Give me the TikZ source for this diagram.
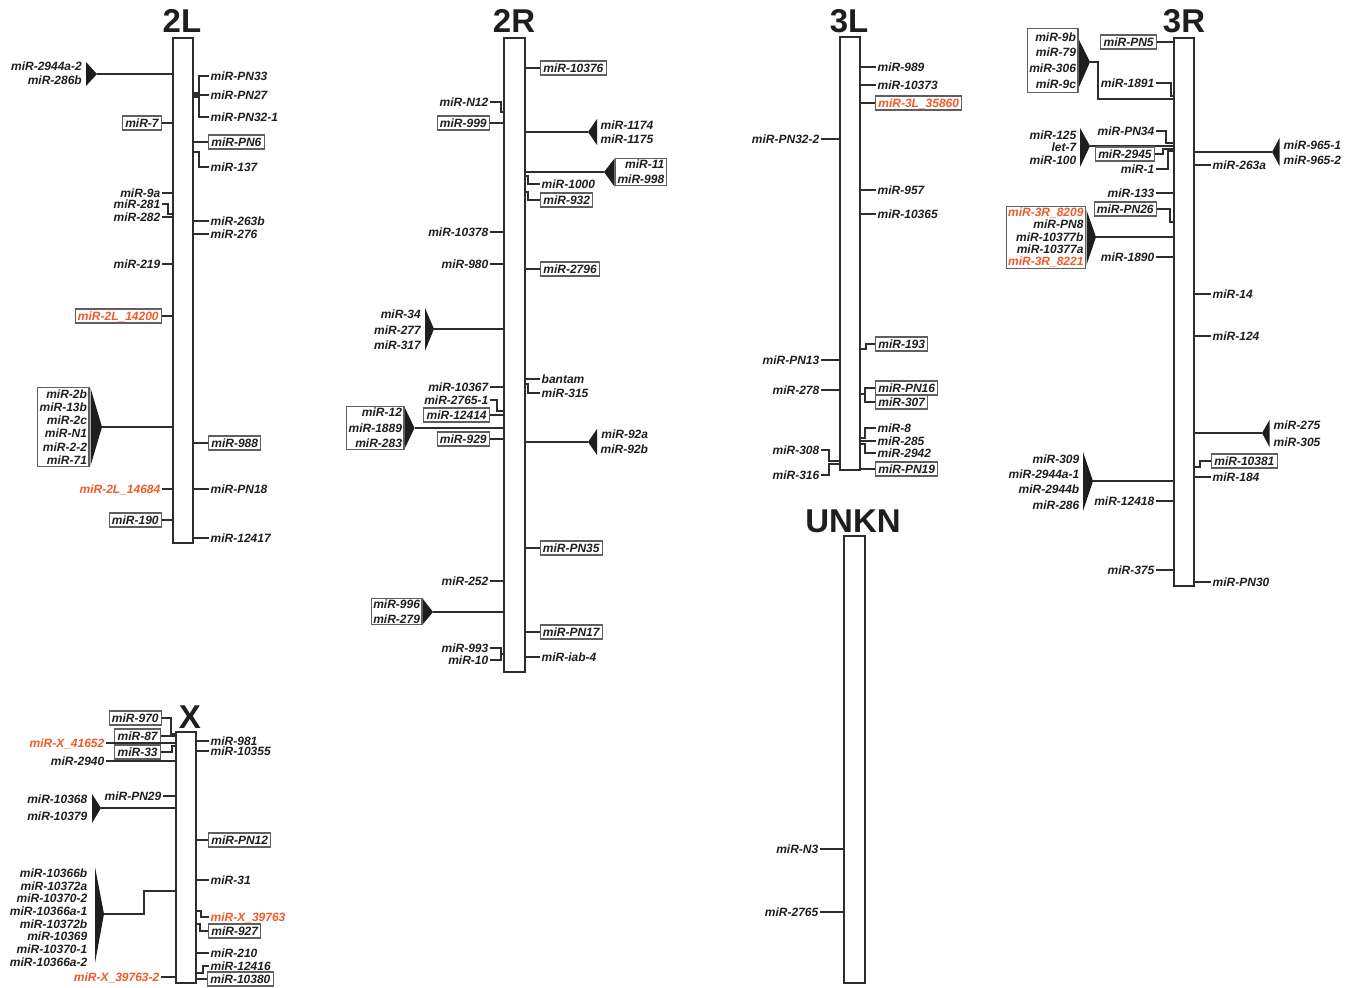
\documentclass[tikz,border=0pt]{standalone}
\usepackage{fontspec}
\newfontfamily\labf{Liberation Sans}
\definecolor{ink}{RGB}{30,30,30}
\definecolor{linec}{RGB}{45,45,45}
\definecolor{boxc}{RGB}{95,95,95}
\definecolor{redc}{RGB}{240,90,40}
\newcommand\labfont{\labf\bfseries\itshape\fontsize{12}{13}\selectfont}
\newcommand\cf[1]{\fontsize{12}{#1}\selectfont}
\newcommand\titlefont{\labf\bfseries\fontsize{33}{33}\selectfont}
\tikzset{
 lab/.style={font=\labfont, text=ink, inner xsep=1.5pt, inner ysep=1pt, text height=9pt, text depth=0pt},
 blab/.style={draw=boxc, line width=1.1pt, inner xsep=2.8pt, inner ysep=2.5pt},
 redt/.style={text=redc},
 clus/.style={text=ink, align=right, inner xsep=2pt, inner ysep=2pt},
 bclus/.style={clus, draw=boxc, line width=1.1pt},
 tick/.style={draw=linec, line width=1.5pt},
 chrom/.style={draw=linec, line width=1.4pt, fill=white, rectangle, inner sep=0pt},
 title/.style={font=\titlefont, text=ink, inner sep=0pt},
 tri/.style={fill=ink}
}
% left label with straight tick
\newcommand\LL[6][]{\node[lab,anchor=east,#1] (#2) at (#4,#5) {#6};\draw[tick] (#2.east) -- (#2.east -| #3.west);}
% right label with straight tick
\newcommand\RR[6][]{\node[lab,anchor=west,#1] (#2) at (#4,#5) {#6};\draw[tick] (#2.west) -- (#2.west -| #3.east);}
% left label with elbow
\newcommand\LE[8][]{\node[lab,anchor=east,#1] (#2) at (#4,#5) {#6};\draw[tick] (#2.east) -- ++(#7,0) |- (#3.west |- 0,#8);}
% right label with elbow
\newcommand\RE[8][]{\node[lab,anchor=west,#1] (#2) at (#4,#5) {#6};\draw[tick] (#2.west) -- ++(-#7,0) |- (#3.east |- 0,#8);}
\begin{document}
\begin{tikzpicture}[x=1pt,y=-1pt]
\useasboundingbox (0,0) rectangle (1356,987);
% chromosomes
\node[chrom,minimum width=20pt,minimum height=505pt] (b2L) at (183,290.5) {};
\node[chrom,minimum width=21pt,minimum height=634pt] (b2R) at (514.5,355) {};
\node[chrom,minimum width=20pt,minimum height=433pt] (b3L) at (850,253.5) {};
\node[chrom,minimum width=20pt,minimum height=548pt] (b3R) at (1184,312) {};
\node[chrom,minimum width=20pt,minimum height=251pt] (bX) at (186,857.5) {};
\node[chrom,minimum width=21pt,minimum height=447pt] (bU) at (854.5,759.5) {};
% titles
\node[title,anchor=base] (t2L) at (182,33) {2L};
\node[title,anchor=base] (t2R) at (514,33) {2R};
\node[title,anchor=base] (t3L) at (849,33) {3L};
\node[title,anchor=base] (t3R) at (1184,33) {3R};
\node[title,anchor=base] (tX) at (190,728) {X};
\node[title,anchor=base] (tU) at (853,532) {UNKN};

% ---------------- 2L ----------------
\node[clus,anchor=east,font=\labfont\cf{14.5}] (c2La) at (84,73) {miR-2944a-2\\miR-286b};
\coordinate (k2La) at (97,74);
\fill[tri] (86,62) -- (k2La) -- (86,86) -- cycle;
\draw[tick] (k2La) -- (k2La -| b2L.west);
\LL[blab]{a7}{b2L}{162}{123}{miR-7}
\LL{a9a}{b2L}{162}{193}{miR-9a}
\LE{a281}{b2L}{162}{204}{miR-281}{6}{214}
\LL{a282}{b2L}{162}{217}{miR-282}
\LL{a219}{b2L}{162}{264}{miR-219}
\LL[blab,redt]{a14200}{b2L}{162}{316}{miR-2L\_14200}
\node[bclus,anchor=east,font=\labfont\cf{13.2}] (c2Lb) at (89.5,427) {miR-2b\\miR-13b\\miR-2c\\miR-N1\\miR-2-2\\miR-71};
\coordinate (k2Lb) at (102,427);
\fill[tri] (90.5,388) -- (k2Lb) -- (90.5,466) -- cycle;
\draw[tick] (k2Lb) -- (k2Lb -| b2L.west);
\LL[redt]{a14684}{b2L}{162}{489}{miR-2L\_14684}
\LL[blab]{a190}{b2L}{162}{520}{miR-190}
\RE{aPN33}{b2L}{209}{76}{miR-PN33}{10}{93}
\RR{aPN27}{b2L}{209}{95}{miR-PN27}
\RE{aPN321}{b2L}{209}{117}{miR-PN32-1}{10}{97}
\RR[blab]{aPN6}{b2L}{208}{142}{miR-PN6}
\RE{a137}{b2L}{209}{167}{miR-137}{10}{152}
\RR{a263b}{b2L}{209}{221}{miR-263b}
\RR{a276}{b2L}{209}{234}{miR-276}
\RR[blab]{a988}{b2L}{208}{443}{miR-988}
\RR{aPN18}{b2L}{209}{489}{miR-PN18}
\RR{a12417}{b2L}{209}{538}{miR-12417}

% ---------------- 2R ----------------
\LE{bN12}{b2R}{490}{102}{miR-N12}{11}{112}
\LL[blab]{b999}{b2R}{490}{123}{miR-999}
\LL{b10378}{b2R}{490}{232}{miR-10378}
\LL{b980}{b2R}{490}{264}{miR-980}
\node[clus,anchor=east,font=\labfont\cf{15.5}] (c2Ra) at (423,330) {miR-34\\miR-277\\miR-317};
\coordinate (k2Ra) at (434,329);
\fill[tri] (425,308) -- (k2Ra) -- (425,351) -- cycle;
\draw[tick] (k2Ra) -- (k2Ra -| b2R.west);
\LL{b10367}{b2R}{490}{387}{miR-10367}
\LE{b27651}{b2R}{490}{400}{miR-2765-1}{7}{411}
\LL[blab]{b12414}{b2R}{490}{415}{miR-12414}
\node[bclus,anchor=east,font=\labfont\cf{15.3}] (c2Rb) at (404.5,428) {miR-12\\miR-1889\\miR-283};
\coordinate (k2Rb) at (414.5,428);
\fill[tri] (405,408) -- (k2Rb) -- (405,448) -- cycle;
\draw[tick] (k2Rb) -- (k2Rb -| b2R.west);
\LL[blab]{b929}{b2R}{490}{439}{miR-929}
\LL{b252}{b2R}{490}{581}{miR-252}
\node[bclus,anchor=east,font=\labfont\cf{14.7},inner ysep=1.5pt] (c2Rc) at (422.5,611.5) {miR-996\\miR-279};
\coordinate (k2Rc) at (433,612);
\fill[tri] (423,599) -- (k2Rc) -- (423,624) -- cycle;
\draw[tick] (k2Rc) -- (k2Rc -| b2R.west);
\LE{b993}{b2R}{490}{648}{miR-993}{11}{654}
\LE{b10}{b2R}{490}{660}{miR-10}{11}{654}
\RR[blab]{b10376}{b2R}{540}{68}{miR-10376}
\node[clus,anchor=west,font=\labfont\cf{14}] (c2Rd) at (598.5,132) {miR-1174\\miR-1175};
\coordinate (k2Rd) at (588,132);
\fill[tri] (597,119) -- (k2Rd) -- (597,145) -- cycle;
\draw[tick] (k2Rd) -- (k2Rd -| b2R.east);
\node[bclus,anchor=west,font=\labfont\cf{15}] (c2Re) at (615,172) {miR-11\\miR-998};
\coordinate (k2Re) at (604,172);
\fill[tri] (614.5,158.5) -- (k2Re) -- (614.5,186.5) -- cycle;
\draw[tick] (k2Re) -- (k2Re -| b2R.east);
\RE{b1000}{b2R}{540}{184}{miR-1000}{12}{176}
\RE[blab]{b932}{b2R}{540}{200}{miR-932}{12}{192}
\RR[blab]{b2796}{b2R}{540}{269}{miR-2796}
\RR{bbantam}{b2R}{540}{379}{bantam}
\RE{b315}{b2R}{540}{393}{miR-315}{12}{384}
\node[clus,anchor=west,font=\labfont\cf{15}] (c2Rf) at (598.5,442) {miR-92a\\miR-92b};
\coordinate (k2Rf) at (588,442);
\fill[tri] (597,429) -- (k2Rf) -- (597,455) -- cycle;
\draw[tick] (k2Rf) -- (k2Rf -| b2R.east);
\RR[blab]{bPN35}{b2R}{539.5}{548}{miR-PN35}
\RR[blab]{bPN17}{b2R}{539.5}{632}{miR-PN17}
\RR{biab4}{b2R}{540}{657}{miR-iab-4}

% ---------------- 3L ----------------
\RR{c989}{b3L}{876}{67}{miR-989}
\RR{c10373}{b3L}{876}{85}{miR-10373}
\RR[blab,redt]{c35860}{b3L}{875}{103}{miR-3L\_35860}
\RR{c957}{b3L}{876}{190}{miR-957}
\RR{c10365}{b3L}{876}{214}{miR-10365}
\RE[blab]{c193}{b3L}{875}{344}{miR-193}{9}{349}
\RE[blab]{cPN16}{b3L}{875}{388}{miR-PN16}{10}{394}
\RE[blab]{c307}{b3L}{875}{402}{miR-307}{10}{394}
\RE{c8}{b3L}{876}{428}{miR-8}{11}{438}
\RR{c285}{b3L}{876}{441}{miR-285}
\RE{c2942}{b3L}{876}{453}{miR-2942}{11}{444}
\RR[blab]{cPN19}{b3L}{875}{469}{miR-PN19}
\LL{cPN322}{b3L}{821}{139}{miR-PN32-2}
\LL{cPN13}{b3L}{821}{360}{miR-PN13}
\LL{c278}{b3L}{821}{390}{miR-278}
\LE{c308}{b3L}{821}{450}{miR-308}{8}{461}
\LE{c316}{b3L}{821}{475}{miR-316}{8}{464}

% ---------------- UNKN ----------------
\LL{dN3}{bU}{820}{849}{miR-N3}
\LL{d2765}{bU}{820}{912}{miR-2765}

% ---------------- 3R ----------------
\LL[blab]{ePN5}{b3R}{1157}{42}{miR-PN5}
\node[bclus,anchor=east,font=\labfont\cf{15.8},inner ysep=3.5pt] (c3Ra) at (1078.5,60.5) {miR-9b\\miR-79\\miR-306\\miR-9c};
\coordinate (k3Ra) at (1090,62);
\fill[tri] (1079,40) -- (k3Ra) -- (1079,87) -- cycle;
\draw[tick] (k3Ra) -- ++(8,0) |- (b3R.west |- 0,99);
\LE{e1891}{b3R}{1156}{83}{miR-1891}{15}{96}
\node[clus,anchor=east,font=\labfont\cf{12.5}] (c3Rb) at (1078.5,147.5) {miR-125\\let-7\\miR-100};
\coordinate (k3Rb) at (1090,146);
\fill[tri] (1080,128) -- (k3Rb) -- (1080,167) -- cycle;
\draw[tick] (k3Rb) -- (k3Rb -| b3R.west);
\LE{ePN34}{b3R}{1156}{131}{miR-PN34}{10}{143}
\LE[blab]{e2945}{b3R}{1155}{154}{miR-2945}{8}{149}
\LE{e1}{b3R}{1156}{169}{miR-1}{12}{151}
\LL{e133}{b3R}{1156}{193}{miR-133}
\LE[blab]{ePN26}{b3R}{1157}{209}{miR-PN26}{13}{222}
\node[bclus,anchor=east,font=\labfont\cf{12.25},inner ysep=1.5pt] (c3Rc) at (1086,237.5) {\textcolor{redc}{miR-3R\_8209}\\miR-PN8\\miR-10377b\\miR-10377a\\\textcolor{redc}{miR-3R\_8221}};
\coordinate (k3Rc) at (1096,237);
\fill[tri] (1086.5,210) -- (k3Rc) -- (1086.5,265) -- cycle;
\draw[tick] (k3Rc) -- (k3Rc -| b3R.west);
\LL{e1890}{b3R}{1156}{257}{miR-1890}
\node[clus,anchor=east,font=\labfont\cf{15.2}] (c3Rd) at (1081.5,482) {miR-309\\miR-2944a-1\\miR-2944b\\miR-286};
\coordinate (k3Rd) at (1093,481);
\fill[tri] (1083,452) -- (k3Rd) -- (1083,511) -- cycle;
\draw[tick] (k3Rd) -- (k3Rd -| b3R.west);
\LL{e12418}{b3R}{1156}{501}{miR-12418}
\LL{e375}{b3R}{1156}{570}{miR-375}
\node[clus,anchor=west,font=\labfont\cf{15}] (c3Re) at (1281.5,152.5) {miR-965-1\\miR-965-2};
\coordinate (k3Re) at (1272,152);
\fill[tri] (1279.5,138) -- (k3Re) -- (1279.5,166) -- cycle;
\draw[tick] (k3Re) -- (k3Re -| b3R.east);
\RR{e263a}{b3R}{1211}{165}{miR-263a}
\RR{e14}{b3R}{1211}{294}{miR-14}
\RR{e124}{b3R}{1211}{336}{miR-124}
\node[clus,anchor=west,font=\labfont\cf{16.7}] (c3Rf) at (1271.5,433.5) {miR-275\\miR-305};
\coordinate (k3Rf) at (1262,433);
\fill[tri] (1269.5,420) -- (k3Rf) -- (1269.5,447) -- cycle;
\draw[tick] (k3Rf) -- (k3Rf -| b3R.east);
\RE[blab]{e10381}{b3R}{1211}{461}{miR-10381}{11}{467}
\RR{e184}{b3R}{1211}{477}{miR-184}
\RR{ePN30}{b3R}{1211}{582}{miR-PN30}

% ---------------- X ----------------
\LE[blab]{f970}{bX}{162}{718}{miR-970}{9}{734}
\LL[blab]{f87}{bX}{161}{736}{miR-87}
\LL[redt]{f41652}{bX}{106}{743}{miR-X\_41652}
\LE[blab]{f33}{bX}{161}{752}{miR-33}{11}{746}
\LL{f2940}{bX}{106}{761}{miR-2940}
\LL{fPN29}{bX}{163}{796}{miR-PN29}
\node[clus,anchor=east,font=\labfont\cf{16.7}] (cXa) at (89.5,807.5) {miR-10368\\miR-10379};
\coordinate (kXa) at (101,808);
\fill[tri] (92,794) -- (kXa) -- (92,823) -- cycle;
\draw[tick] (kXa) -- (kXa -| bX.west);
\node[clus,anchor=east,font=\labfont\cf{12.67}] (cXb) at (89.5,917.5) {miR-10366b\\miR-10372a\\miR-10370-2\\miR-10366a-1\\miR-10372b\\miR-10369\\miR-10370-1\\miR-10366a-2};
\coordinate (kXb) at (104,914);
\fill[tri] (95,867) -- (kXb) -- (95,963) -- cycle;
\draw[tick] (kXb) -- ++(40,0) |- (bX.west |- 0,891);
\LL[redt]{f397632}{bX}{161}{977}{miR-X\_39763-2}
\RR{f981}{bX}{209}{741}{miR-981}
\RR{f10355}{bX}{209}{751}{miR-10355}
\RR[blab]{fPN12}{bX}{208}{840}{miR-PN12}
\RR{f31}{bX}{209}{880}{miR-31}
\RE[redt]{f39763}{bX}{209}{917}{miR-X\_39763}{8}{911}
\RE[blab]{f927}{bX}{208}{931}{miR-927}{8}{924}
\RR{f210}{bX}{209}{953}{miR-210}
\RE{f12416}{bX}{209}{966}{miR-12416}{6}{973}
\RR[blab]{f10380}{bX}{207}{979}{miR-10380}
\end{tikzpicture}
\end{document}
